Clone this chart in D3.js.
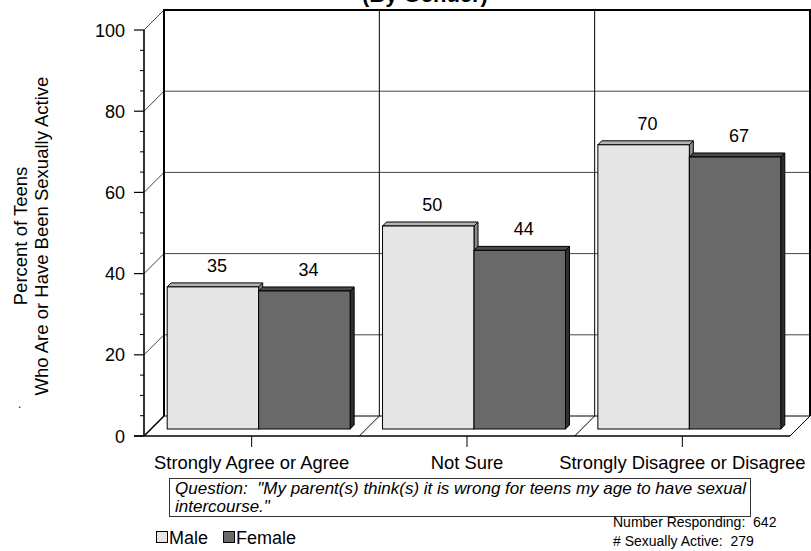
<!DOCTYPE html>
<html>
<head>
<meta charset="utf-8">
<script src="https://cdn.jsdelivr.net/npm/d3@7"></script>
<style>
  html, body { margin: 0; padding: 0; background: #fff; }
  svg { display: block; }
  text { font-family: "Liberation Sans", Arial, Helvetica, sans-serif; fill: #000; white-space: pre; }
</style>
</head>
<body>
<svg id="chart" width="811" height="551"></svg>
<script>
// Survey answers (x categories) and the two gender series
const categories = ["Strongly Agree or Agree", "Not Sure", "Strongly Disagree or Disagree"];
const seriesNames = ["Male", "Female"];
const maleValues = [35, 50, 70];
const femaleValues = [34, 44, 67];
const yTicks = [0, 20, 40, 60, 80, 100];
const titleText = "(By Gender)";
const yTitleLines = ["Percent of Teens", "Who Are or Have Been Sexually Active"];
const questionLines = ["Question:  \"My parent(s) think(s) it is wrong for teens my age to have sexual", "intercourse.\""];
const noteLines = ["Number Responding:  642", "# Sexually Active:  279"];

const seriesValues = { Male: maleValues, Female: femaleValues };
const colors = {
  Male:   { front: "#e6e6e6", top: "#b3b3b3", side: "#8c8c8c" },
  Female: { front: "#696969", top: "#4a4a4a", side: "#2e2e2e" }
};

const svg = d3.select("#chart");

// Plot frame: front plane plus a receding back wall
const front = { left: 144, right: 790, top: 30, bottom: 436 };
const depth = 20;      // wall/floor depth offset
const barShift = 7;    // bars stand a little behind the front edge
const barDepth = 4;    // bar thickness

const y = d3.scaleLinear().domain([0, 100]).range([front.bottom, front.top]);
const x = d3.scaleBand().domain(categories).range([front.left, front.right]);
const xs = d3.scaleBand().domain(seriesNames).range([0, x.bandwidth()]).paddingOuter(0.177);

// Title (top line, runs off the top edge)
svg.append("text").attr("x", 425).attr("y", 2).attr("text-anchor", "middle")
  .attr("font-size", 22).attr("font-weight", "bold").text(titleText);

const walls = svg.append("g");

// Back-wall horizontal grid lines
walls.selectAll(".hgrid").data(yTicks.filter(d => d > 0 && d < 100)).join("line")
  .attr("x1", front.left + depth).attr("x2", front.right + depth)
  .attr("y1", d => y(d) - depth).attr("y2", d => y(d) - depth)
  .attr("stroke", "#444").attr("stroke-width", 1);

// Side-wall diagonals at every major tick
walls.selectAll(".sgrid").data(yTicks).join("line")
  .attr("x1", front.left).attr("x2", front.left + depth)
  .attr("y1", d => y(d)).attr("y2", d => y(d) - depth)
  .attr("stroke", d => d === 0 ? "#000" : "#444")
  .attr("stroke-width", d => d === 0 ? 1.6 : 1);

// Back-wall category dividers and their floor diagonals
const dividers = categories.slice(1).map(c => x(c));
walls.selectAll(".vgrid").data(dividers).join("line")
  .attr("x1", d => d + depth).attr("x2", d => d + depth)
  .attr("y1", front.top - depth).attr("y2", front.bottom - depth)
  .attr("stroke", "#000").attr("stroke-width", 1);
walls.selectAll(".fgrid").data(dividers).join("line")
  .attr("x1", d => d).attr("x2", d => d + depth)
  .attr("y1", front.bottom).attr("y2", front.bottom - depth)
  .attr("stroke", "#000").attr("stroke-width", 1);

// Floor back edge
walls.append("line")
  .attr("x1", front.left + depth).attr("x2", front.right + depth)
  .attr("y1", front.bottom - depth).attr("y2", front.bottom - depth)
  .attr("stroke", "#000").attr("stroke-width", 1);

// Back wall outline (heavy)
walls.append("path")
  .attr("d", `M${front.left + depth},${front.bottom - depth}V${front.top - depth}H${front.right + depth}V${front.bottom - depth}`)
  .attr("fill", "none").attr("stroke", "#000").attr("stroke-width", 2);

// Floor right edge
walls.append("line")
  .attr("x1", front.right).attr("x2", front.right + depth)
  .attr("y1", front.bottom).attr("y2", front.bottom - depth)
  .attr("stroke", "#000").attr("stroke-width", 1);

// Bars
const barData = [];
categories.forEach((c, i) => seriesNames.forEach(s => barData.push({ cat: c, series: s, value: seriesValues[s][i] })));

const bars = svg.append("g").selectAll("g").data(barData).join("g");
bars.each(function (d) {
  const g = d3.select(this);
  const x0 = x(d.cat) + xs(d.series) + barShift;
  const w = xs.bandwidth();
  const y0 = y(d.value) - barShift;
  const yb = y(0) - barShift;
  const k = barDepth;
  const c = colors[d.series];
  g.append("path")
    .attr("d", `M${x0 + w},${y0}L${x0 + w + k},${y0 - k}V${yb - k}L${x0 + w},${yb}Z`)
    .attr("fill", c.side).attr("stroke", "#000").attr("stroke-width", 1).attr("stroke-linejoin", "round");
  g.append("path")
    .attr("d", `M${x0},${y0}L${x0 + k},${y0 - k}H${x0 + w + k}L${x0 + w},${y0}Z`)
    .attr("fill", c.top).attr("stroke", "#000").attr("stroke-width", 1).attr("stroke-linejoin", "round");
  g.append("rect")
    .attr("x", x0).attr("y", y0).attr("width", w).attr("height", yb - y0)
    .attr("fill", c.front).attr("stroke", "#000").attr("stroke-width", 1);
  g.append("text")
    .attr("x", x0 + w / 2 + 4).attr("y", y0 - 15)
    .attr("text-anchor", "middle").attr("font-size", 18)
    .text(d.value);
});

// Front axes
const axes = svg.append("g");
axes.append("line")
  .attr("x1", front.left).attr("x2", front.left)
  .attr("y1", y(100)).attr("y2", y(0))
  .attr("stroke", "#000").attr("stroke-width", 1.6);
axes.append("line")
  .attr("x1", front.left - 10).attr("x2", front.right)
  .attr("y1", y(0)).attr("y2", y(0))
  .attr("stroke", "#000").attr("stroke-width", 1.6);

// Y ticks: majors with labels, minors every 5
const minorTicks = d3.range(5, 100, 5).filter(v => v % 20 !== 0);
axes.selectAll(".minor").data(minorTicks).join("line")
  .attr("x1", front.left - 4).attr("x2", front.left)
  .attr("y1", d => y(d)).attr("y2", d => y(d))
  .attr("stroke", "#000").attr("stroke-width", 1);
axes.selectAll(".major").data(yTicks).join("line")
  .attr("x1", front.left - 10).attr("x2", front.left)
  .attr("y1", d => y(d)).attr("y2", d => y(d))
  .attr("stroke", "#000").attr("stroke-width", 1.2);
axes.selectAll(".ylab").data(yTicks).join("text")
  .attr("x", front.left - 19).attr("y", d => y(d) + 6.5)
  .attr("text-anchor", "end").attr("font-size", 18)
  .text(d => d);

// X ticks and category labels
axes.selectAll(".xtick").data(categories).join("line")
  .attr("x1", d => x(d) + x.bandwidth() / 2).attr("x2", d => x(d) + x.bandwidth() / 2)
  .attr("y1", y(0)).attr("y2", y(0) + 11)
  .attr("stroke", "#000").attr("stroke-width", 1);
axes.selectAll(".xlab").data(categories).join("text")
  .attr("x", d => x(d) + x.bandwidth() / 2).attr("y", 469)
  .attr("text-anchor", "middle").attr("font-size", 18.4)
  .text(d => d);

// Y axis title (two rotated lines)
const yt = svg.append("text").attr("text-anchor", "middle").attr("font-size", 18.5)
  .attr("transform", "translate(27,236) rotate(-90)");
yt.append("tspan").attr("x", 0).attr("y", 0).text(yTitleLines[0]);
yt.append("tspan").attr("x", 0).attr("y", 21).text(yTitleLines[1]);
svg.append("text").attr("x", 18).attr("y", 408).attr("font-size", 12).text(".");

// Question box
svg.append("rect").attr("x", 169.5).attr("y", 478.5).attr("width", 581).attr("height", 38)
  .attr("fill", "#fff").attr("stroke", "#333").attr("stroke-width", 1);
svg.selectAll(".q").data(questionLines).join("text")
  .attr("x", 175).attr("y", (d, i) => 494 + i * 17.5)
  .attr("font-size", 17).attr("font-style", "italic")
  .text(d => d);

// Legend
const legend = svg.append("g");
const legendPos = [{ bx: 156, tx: 169 }, { bx: 223, tx: 236 }];
seriesNames.forEach((s, i) => {
  legend.append("rect").attr("x", legendPos[i].bx + 0.5).attr("y", 531.5).attr("width", 11).attr("height", 11)
    .attr("fill", colors[s].front).attr("stroke", "#000").attr("stroke-width", 1);
  legend.append("text").attr("x", legendPos[i].tx).attr("y", 544).attr("font-size", 18).text(s);
});

// Sample-size notes
svg.selectAll(".note").data(noteLines).join("text")
  .attr("x", 613).attr("y", (d, i) => 527 + i * 18.5)
  .attr("font-size", 14)
  .text(d => d);
</script>
</body>
</html>
